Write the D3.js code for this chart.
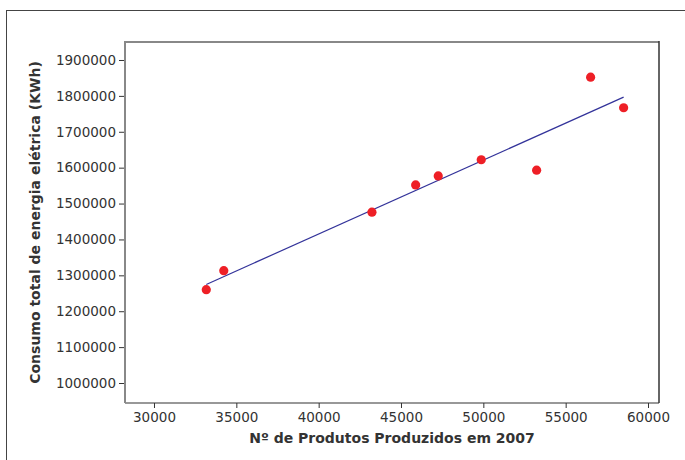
<!DOCTYPE html>
<html>
<head>
<meta charset="utf-8">
<script src="https://cdn.jsdelivr.net/npm/d3@7"></script>
<style>
  html, body { margin: 0; padding: 0; background: #fff; }
  svg { display: block; }
</style>
</head>
<body>
<svg id="chart" width="685" height="460"></svg>
<script>
// Data
const produtos = [33175, 34238, 43236, 45890, 47262, 49873, 53236, 56515, 58519];
const consumo  = [1260000, 1313000, 1476000, 1552000, 1577000, 1622000, 1593000, 1852000, 1767000];
const xTicks = [30000, 35000, 40000, 45000, 50000, 55000, 60000];
const yTicks = [1000000, 1100000, 1200000, 1300000, 1400000, 1500000, 1600000, 1700000, 1800000, 1900000];
const xTitle = "Nº de Produtos Produzidos em 2007";
const yTitle = "Consumo total de energia elétrica (KWh)";

const svg = d3.select("#chart");
const L = 125, R = 659, T = 42, B = 403;

const x = d3.scaleLinear().domain([28239, 60668]).range([L, R]);
const y = d3.scaleLinear().domain([944290, 1950139]).range([B, T]);

// outer frame (partially visible)
svg.append("rect").attr("x", 6.5).attr("y", 10.5).attr("width", 700).attr("height", 470)
  .attr("fill", "none").attr("stroke", "#444").attr("stroke-width", 1);

// plot box
svg.append("line").attr("x1", L).attr("x2", R).attr("y1", T).attr("y2", T)
  .attr("stroke", "#888").attr("stroke-width", 2);
svg.append("line").attr("x1", R).attr("x2", R).attr("y1", T - 1).attr("y2", B)
  .attr("stroke", "#333").attr("stroke-width", 1.5);
svg.append("line").attr("x1", L).attr("x2", R).attr("y1", B).attr("y2", B)
  .attr("stroke", "#333").attr("stroke-width", 1.2);
svg.append("line").attr("x1", L).attr("x2", L).attr("y1", T - 1).attr("y2", B)
  .attr("stroke", "#888").attr("stroke-width", 2);

// axes
const xAxis = svg.append("g").attr("transform", `translate(0,${B})`)
  .call(d3.axisBottom(x).tickValues(xTicks).tickSize(5).tickPadding(4).tickFormat(d3.format("d")));
const yAxis = svg.append("g").attr("transform", `translate(${L - 1},0)`)
  .call(d3.axisLeft(y).tickValues(yTicks).tickSize(5).tickPadding(3).tickFormat(d3.format("d")));
[xAxis, yAxis].forEach(g => {
  g.select(".domain").remove();
  g.selectAll(".tick line").attr("stroke", "#333").attr("stroke-width", 1);
  g.selectAll(".tick text").attr("fill", "#333")
    .style("font-family", "DejaVu Sans, Verdana, sans-serif").style("font-size", "13.5px");
});

// regression line computed from the data
const mx = d3.mean(produtos), my = d3.mean(consumo);
let sxy = 0, sxx = 0;
produtos.forEach((v, i) => { sxy += (v - mx) * (consumo[i] - my); sxx += (v - mx) * (v - mx); });
const slope = sxy / sxx, icpt = my - slope * mx;
const xs = [d3.min(produtos), d3.max(produtos)];
svg.append("path")
  .datum(xs.map(v => [v, icpt + slope * v]))
  .attr("d", d3.line().x(d => x(d[0])).y(d => y(d[1])))
  .attr("fill", "none").attr("stroke", "#33339a").attr("stroke-width", 1.2);

// points
svg.append("g").selectAll("circle")
  .data(produtos.map((v, i) => [v, consumo[i]]))
  .join("circle")
  .attr("cx", d => x(d[0])).attr("cy", d => y(d[1])).attr("r", 4.6)
  .attr("fill", "#ee1f26");

// titles
svg.append("text").attr("x", (L + R) / 2).attr("y", 443).attr("text-anchor", "middle")
  .attr("fill", "#333").style("font-family", "DejaVu Sans, Verdana, sans-serif")
  .style("font-size", "14px").style("font-weight", "bold").text(xTitle);
svg.append("text").attr("transform", `translate(40,${(T + B) / 2}) rotate(-90)`)
  .attr("text-anchor", "middle")
  .attr("fill", "#333").style("font-family", "DejaVu Sans, Verdana, sans-serif")
  .style("font-size", "14px").style("font-weight", "bold").text(yTitle);
</script>
</body>
</html>
